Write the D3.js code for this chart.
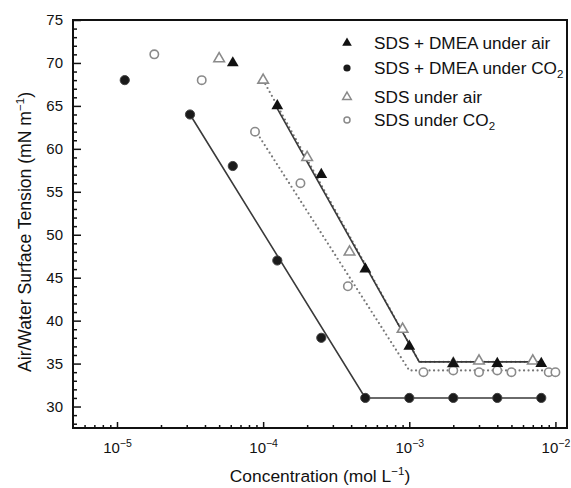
<!DOCTYPE html>
<html>
<head>
<meta charset="utf-8">
<script src="https://cdn.jsdelivr.net/npm/d3@7"></script>
<style>
  body { margin: 0; background: #fff; }
  text { font-family: "Liberation Sans", Arial, sans-serif; fill: #111; }
</style>
</head>
<body>
<svg id="chart" width="571" height="488"></svg>
<script>
// measured points
const concDmeaAir = [6.2e-5, 1.25e-4, 2.5e-4, 5e-4, 1e-3, 2e-3, 4e-3, 8e-3];
const tensionDmeaAir = [70, 65, 57, 46, 37, 35, 35, 35];

const concDmeaCo2 = [1.13e-5, 3.16e-5, 6.2e-5, 1.25e-4, 2.5e-4, 5e-4, 1e-3, 2e-3, 4e-3, 8e-3];
const tensionDmeaCo2 = [68, 64, 58, 47, 38, 31, 31, 31, 31, 31];

const concSdsAir = [5e-5, 1e-4, 2e-4, 3.9e-4, 9e-4, 2e-3, 3e-3, 7e-3];
const tensionSdsAir = [70.5, 68, 59, 48, 39, 35, 35.3, 35.3];

const concSdsCo2 = [1.8e-5, 3.8e-5, 8.8e-5, 1.8e-4, 3.8e-4, 1.25e-3, 2e-3, 3e-3, 4e-3, 5e-3, 9e-3, 1e-2];
const tensionSdsCo2 = [71, 68, 62, 56, 44, 34, 34.2, 34, 34.2, 34, 34, 34];

// fitted lines (break points)
const fitDmeaAirConc = [1.22e-4, 1.17e-3, 8e-3];
const fitDmeaAirTension = [65, 35.2, 35.2];
const fitDmeaCo2Conc = [3.16e-5, 5e-4, 8e-3];
const fitDmeaCo2Tension = [64, 31, 31];
const fitSdsAirConc = [1e-4, 1.17e-3, 8.5e-3];
const fitSdsAirTension = [68, 35.2, 35.2];
const fitSdsCo2Conc = [8.8e-5, 1e-3, 9.8e-3];
const fitSdsCo2Tension = [62.2, 34.2, 34.2];

const xMajorTicks = [1e-5, 1e-4, 1e-3, 1e-2];
const yMajorTicks = [30, 35, 40, 45, 50, 55, 60, 65, 70, 75];

const legendLabels = ["SDS + DMEA under air", "SDS + DMEA under CO", "SDS under air", "SDS under CO"];
const legendSubs = ["", "2", "", "2"];

const width = 571, height = 488;
const margin = { top: 20, right: 4, bottom: 60, left: 73 };

const svg = d3.select("#chart");

const x = d3.scaleLog()
  .domain([5e-6, 1.2e-2])
  .range([margin.left, width - margin.right]);

const y = d3.scaleLinear()
  .domain([27.5, 75])
  .range([height - margin.bottom, margin.top]);

// minor ticks
const xMinorTicks = [];
[-6, -5, -4, -3].forEach(e => {
  for (let m = 2; m <= 9; m++) {
    const v = m * Math.pow(10, e);
    if (v >= x.domain()[0] && v <= x.domain()[1]) xMinorTicks.push(v);
  }
});
const yMinorTicks = d3.range(28, 76).filter(v => v % 5 !== 0);

const bottom = height - margin.bottom;

svg.append("g")
  .attr("transform", `translate(0, ${bottom})`)
  .call(d3.axisBottom(x).tickValues(xMinorTicks).tickSize(-3).tickSizeOuter(0).tickFormat(""))
  .call(g => g.select(".domain").remove());

const xAxis = svg.append("g")
  .attr("transform", `translate(0, ${bottom})`)
  .call(d3.axisBottom(x).tickValues(xMajorTicks).tickSize(-6).tickSizeOuter(0).tickPadding(14).tickFormat(""))
  .call(g => g.select(".domain").remove());

xAxis.selectAll(".tick text").each(function(d) {
  const t = d3.select(this)
    .attr("font-size", 15)
    .attr("dy", "0.71em");
  t.append("tspan").text("10");
  t.append("tspan")
    .attr("font-size", 10.5)
    .attr("dy", "-0.55em")
    .text("\u2212" + Math.round(-Math.log10(d)));
});

svg.append("g")
  .attr("transform", `translate(${margin.left}, 0)`)
  .call(d3.axisLeft(y).tickValues(yMinorTicks).tickSize(-4).tickSizeOuter(0).tickFormat(""))
  .call(g => g.select(".domain").remove());

svg.append("g")
  .attr("transform", `translate(${margin.left}, 0)`)
  .call(d3.axisLeft(y).tickValues(yMajorTicks).tickSize(-8).tickSizeOuter(0).tickPadding(10))
  .call(g => g.select(".domain").remove())
  .call(g => g.selectAll("text").attr("font-size", 15).attr("fill", "#111"));

svg.selectAll(".tick line").attr("stroke", "#111").attr("stroke-width", 1.5);

// frame
svg.append("rect")
  .attr("x", margin.left)
  .attr("y", margin.top)
  .attr("width", width - margin.left - margin.right)
  .attr("height", height - margin.top - margin.bottom)
  .attr("fill", "none")
  .attr("stroke", "#111")
  .attr("stroke-width", 2);

// fit lines
const line = d3.line()
  .x(d => x(d[0]))
  .y(d => y(d[1]));

const zip = (a, b) => a.map((v, i) => [v, b[i]]);

svg.append("path")
  .attr("d", line(zip(fitSdsCo2Conc, fitSdsCo2Tension)))
  .attr("fill", "none").attr("stroke", "#777").attr("stroke-width", 2.2)
  .attr("stroke-dasharray", "0,4.5").attr("stroke-linecap", "round");

svg.append("path")
  .attr("d", line(zip(fitSdsAirConc, fitSdsAirTension)))
  .attr("fill", "none").attr("stroke", "#777").attr("stroke-width", 2.2)
  .attr("stroke-dasharray", "0,4.5").attr("stroke-linecap", "round");

svg.append("path")
  .attr("d", line(zip(fitDmeaCo2Conc, fitDmeaCo2Tension)))
  .attr("fill", "none").attr("stroke", "#3a3a3a").attr("stroke-width", 1.6);

svg.append("path")
  .attr("d", line(zip(fitDmeaAirConc, fitDmeaAirTension)))
  .attr("fill", "none").attr("stroke", "#3a3a3a").attr("stroke-width", 1.6);

// markers
const triangle = d3.symbol().type(d3.symbolTriangle);

svg.append("g").selectAll("circle")
  .data(zip(concSdsCo2, tensionSdsCo2))
  .join("circle")
  .attr("cx", d => x(d[0])).attr("cy", d => y(d[1])).attr("r", 4.2)
  .attr("fill", "#fff").attr("stroke", "#8a8a8a").attr("stroke-width", 1.6);

svg.append("g").selectAll("path")
  .data(zip(concSdsAir, tensionSdsAir))
  .join("path")
  .attr("transform", d => `translate(${x(d[0])}, ${y(d[1])})`)
  .attr("d", triangle.size(48)())
  .attr("fill", "#fff").attr("stroke", "#8a8a8a").attr("stroke-width", 1.6);

svg.append("g").selectAll("circle")
  .data(zip(concDmeaCo2, tensionDmeaCo2))
  .join("circle")
  .attr("cx", d => x(d[0])).attr("cy", d => y(d[1])).attr("r", 4.6)
  .attr("fill", "#1a1a1a").attr("stroke", "#444").attr("stroke-width", 1);

svg.append("g").selectAll("path")
  .data(zip(concDmeaAir, tensionDmeaAir))
  .join("path")
  .attr("transform", d => `translate(${x(d[0])}, ${y(d[1])})`)
  .attr("d", triangle.size(60)())
  .attr("fill", "#111");

// legend
const legendY = [43, 68, 97, 120];
const legend = svg.append("g");
legendLabels.forEach((label, i) => {
  const g = legend.append("g").attr("transform", `translate(347, ${legendY[i]})`);
  if (i === 0) g.append("path").attr("d", triangle.size(40)()).attr("fill", "#111");
  if (i === 1) g.append("circle").attr("r", 3.6).attr("fill", "#1a1a1a");
  if (i === 2) g.append("path").attr("d", triangle.size(32)()).attr("fill", "#fff").attr("stroke", "#8a8a8a").attr("stroke-width", 1.5);
  if (i === 3) g.append("circle").attr("r", 3).attr("fill", "#fff").attr("stroke", "#8a8a8a").attr("stroke-width", 1.5);
  const t = g.append("text")
    .attr("x", 27)
    .attr("dy", "0.36em")
    .attr("font-size", 17.2)
    .text(label);
  if (legendSubs[i]) {
    t.append("tspan").attr("font-size", 11.5).attr("dy", "0.35em").text(legendSubs[i]);
  }
});

// axis titles
const xTitle = svg.append("text")
  .attr("x", (margin.left + width - margin.right) / 2)
  .attr("y", 482)
  .attr("text-anchor", "middle")
  .attr("font-size", 17.4);
xTitle.append("tspan").text("Concentration (mol L");
xTitle.append("tspan").attr("font-size", 11.5).attr("dy", "-0.6em").text("\u22121");
xTitle.append("tspan").attr("dy", "0.4em").text(")");

const yTitle = svg.append("text")
  .attr("transform", `translate(31, ${(margin.top + height - margin.bottom) / 2 + 8}) rotate(-90)`)
  .attr("text-anchor", "middle")
  .attr("font-size", 17.6);
yTitle.append("tspan").text("Air/Water Surface Tension (mN m");
yTitle.append("tspan").attr("font-size", 11.5).attr("dy", "-0.6em").text("\u22121");
yTitle.append("tspan").attr("dy", "0.4em").text(")");
</script>
</body>
</html>
